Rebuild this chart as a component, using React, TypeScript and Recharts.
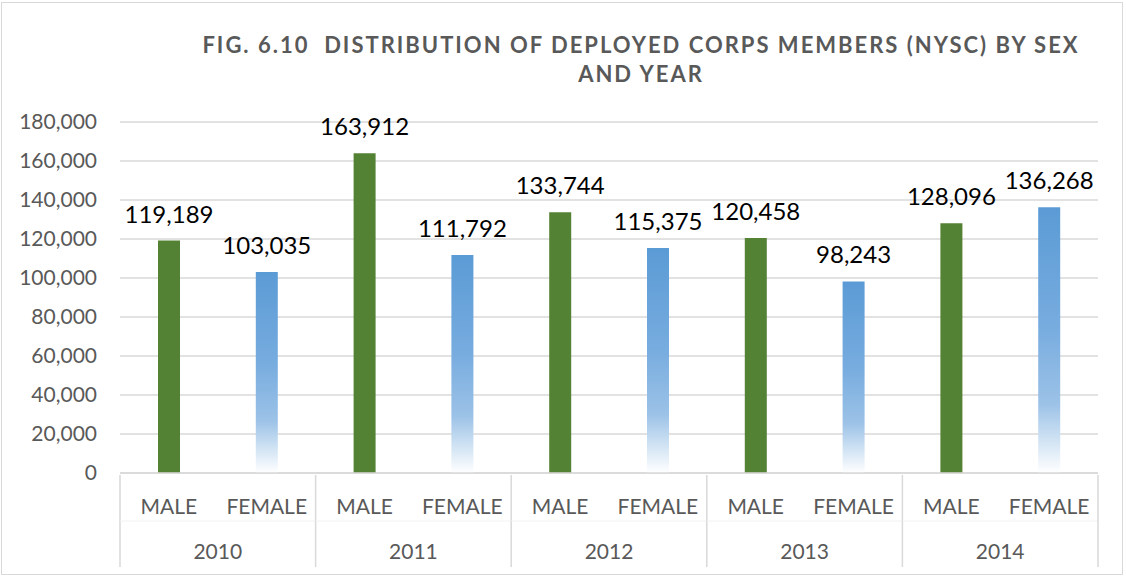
import React from 'react';
import { BarChart, Bar, XAxis, YAxis, CartesianGrid, Cell, LabelList } from 'recharts';

const years = ['2010', '2011', '2012', '2013', '2014'];
const sexes = ['MALE', 'FEMALE'];
const maleValues = [119189, 163912, 133744, 120458, 128096];
const femaleValues = [103035, 111792, 115375, 98243, 136268];
const yTicks = [0, 20000, 40000, 60000, 80000, 100000, 120000, 140000, 160000, 180000];

const data = years.flatMap((year, i) => [
  { year, sex: sexes[0], value: maleValues[i] },
  { year, sex: sexes[1], value: femaleValues[i] },
]);

const W = 1126;
const H = 579;
const MARGIN = { top: 122, right: 28, bottom: 0, left: 0 };
const Y_AXIS_W = 120;
const X_AXIS_H = 106;
const PLOT_W = W - MARGIN.left - MARGIN.right - Y_AXIS_W;
const BAND = PLOT_W / data.length;

const FONT = 'Lato, "Open Sans", sans-serif';
const GRID = '#d9d9d9';
const TEXT = '#595959';

const fmt = (v: number) => v.toLocaleString('en-US');

// two-level category axis: sex on the first row, year spanning each pair below
function CategoryTick(props: any) {
  const { x, y, index, payload } = props;
  const row = data[index];
  const last = index === data.length - 1;
  return (
    <g>
      <text x={x} y={y + 39} textAnchor="middle" fill={TEXT} fontSize={21} fontFamily={FONT}>
        {payload.value}
      </text>
      {index % 2 === 0 && (
        <>
          <line x1={x - BAND / 2} x2={x - BAND / 2} y1={y} y2={y + 92} stroke={GRID} strokeWidth={1.5} />
          <line x1={x - BAND / 2} x2={x + BAND * 1.5} y1={y + 46} y2={y + 46} stroke="#f2f2f2" strokeWidth={1} />
          <text x={x + BAND / 2} y={y + 84} textAnchor="middle" fill={TEXT} fontSize={21} fontFamily={FONT}>
            {row ? row.year : ''}
          </text>
        </>
      )}
      {last && (
        <line x1={x + BAND / 2} x2={x + BAND / 2} y1={y} y2={y + 92} stroke={GRID} strokeWidth={1.5} />
      )}
    </g>
  );
}

export default function App() {
  return (
    <div style={{ position: 'absolute', left: 0, top: 0, width: W, height: H, background: '#fff' }}>
      <svg width={0} height={0} style={{ position: 'absolute' }}>
        <defs>
          <linearGradient id="femaleFill" x1="0" y1="0" x2="0" y2="1">
            <stop offset="0%" stopColor="#5b9bd5" />
            <stop offset="45%" stopColor="#77acdf" />
            <stop offset="74%" stopColor="#9cc2e7" />
            <stop offset="86%" stopColor="#cadff2" />
            <stop offset="100%" stopColor="#ffffff" />
          </linearGradient>
        </defs>
      </svg>
      <div
        style={{
          position: 'absolute',
          left: 1,
          top: 2,
          width: W - 4,
          height: H - 6,
          border: `1.5px solid ${GRID}`,
          boxSizing: 'border-box',
        }}
      />
      <div
        style={{
          position: 'absolute',
          left: 191,
          top: 30,
          width: 900,
          textAlign: 'center',
          fontFamily: FONT,
          fontWeight: 700,
          fontSize: 22,
          letterSpacing: 2,
          lineHeight: '29px',
          color: TEXT,
          whiteSpace: 'pre',
        }}
      >
        {'FIG. 6.10  DISTRIBUTION OF DEPLOYED CORPS MEMBERS (NYSC) BY SEX'}
        <br />
        {'AND YEAR'}
      </div>
      <BarChart width={W} height={H} data={data} margin={MARGIN} barSize={22}>
        <CartesianGrid vertical={false} stroke={GRID} strokeWidth={1.5} />
        <YAxis
          width={Y_AXIS_W}
          domain={[0, 180000]}
          ticks={yTicks}
          interval={0}
          axisLine={false}
          tickLine={false}
          tickSize={0}
          tickMargin={23}
          tickFormatter={fmt}
          tick={{ fill: TEXT, fontSize: 21, fontFamily: FONT }}
        />
        <XAxis
          dataKey="sex"
          height={X_AXIS_H}
          interval={0}
          allowDuplicatedCategory
          axisLine={{ stroke: GRID, strokeWidth: 1.5 }}
          tickLine={false}
          tickSize={0}
          tick={<CategoryTick />}
        />
        <Bar dataKey="value" isAnimationActive={false}>
          {data.map((d, i) => (
            <Cell key={i} fill={d.sex === 'MALE' ? '#548235' : 'url(#femaleFill)'} />
          ))}
          <LabelList
            dataKey="value"
            position="top"
            offset={18}
            formatter={(v: any) => fmt(Number(v))}
            style={{ fill: '#000', fontSize: 24, fontFamily: FONT }}
          />
        </Bar>
      </BarChart>
    </div>
  );
}
